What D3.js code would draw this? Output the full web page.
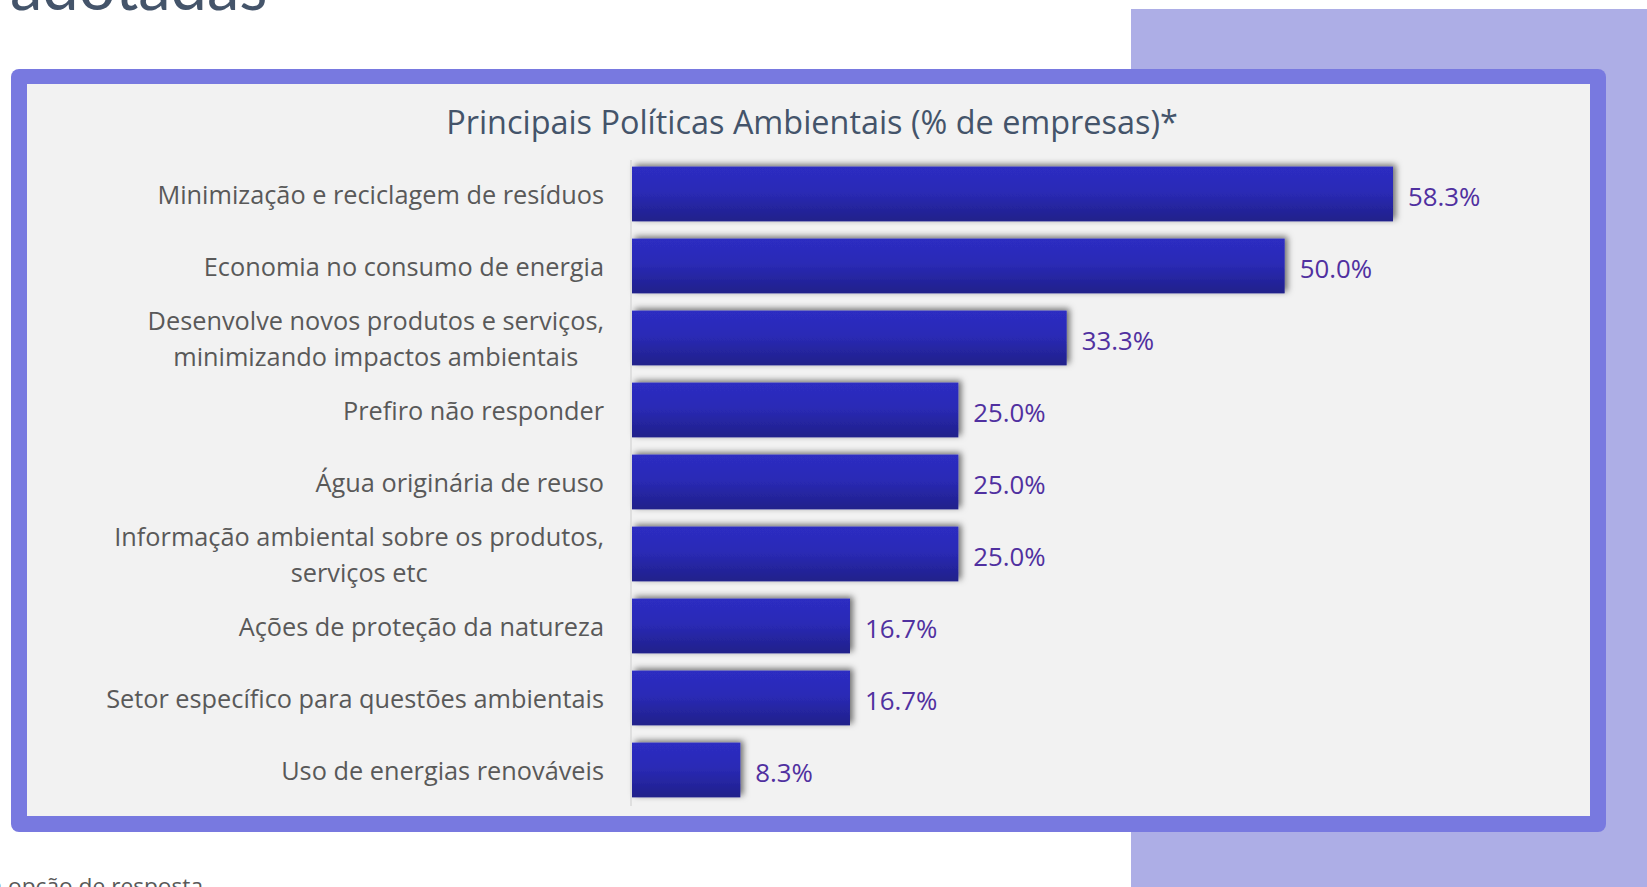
<!DOCTYPE html>
<html>
<head>
<meta charset="utf-8">
<script src="https://cdn.jsdelivr.net/npm/d3@7"></script>
<style>
  html, body { margin: 0; padding: 0; background: #ffffff; overflow: hidden; }
  svg { display: block; }
</style>
</head>
<body>
<svg id="chart" width="1647" height="887"></svg>
<script>
// Environmental policies adopted (% of companies)
const categories = [
  ["Minimização e reciclagem de resíduos"],
  ["Economia no consumo de energia"],
  ["Desenvolve novos produtos e serviços,", "minimizando impactos ambientais"],
  ["Prefiro não responder"],
  ["Água originária de reuso"],
  ["Informação ambiental sobre os produtos,", "serviços etc"],
  ["Ações de proteção da natureza"],
  ["Setor específico para questões ambientais"],
  ["Uso de energias renováveis"]
];
const values = [58.3, 50.0, 33.3, 25.0, 25.0, 25.0, 16.7, 16.7, 8.3];
const valueLabels = ["58.3%", "50.0%", "33.3%", "25.0%", "25.0%", "25.0%", "16.7%", "16.7%", "8.3%"];
const chartTitle = "Principais Políticas Ambientais (% de empresas)*";
const pageHeading = "Políticas ambientais adotadas";
const footnote = "*Mais de uma opção de resposta";

const FONT = "'Open Sans', 'Noto Sans', sans-serif";
const svg = d3.select("#chart");

// page decoration
svg.append("rect").attr("x", 1131).attr("y", 9).attr("width", 520).attr("height", 880).attr("fill", "#adaee6");

svg.append("text")
  .attr("x", 10).attr("y", 10)
  .attr("font-family", "Lato, 'Open Sans', sans-serif")
  .attr("font-size", 65)
  .attr("fill", "#44546a")
  .text(pageHeading.split(" ").pop());

svg.append("text")
  .attr("x", 203).attr("y", 894)
  .attr("text-anchor", "end")
  .attr("font-family", FONT)
  .attr("font-size", 22.7)
  .attr("fill", "#595959")
  .text(footnote);

// chart frame
svg.append("rect")
  .attr("x", 11).attr("y", 69).attr("width", 1595).attr("height", 763)
  .attr("rx", 8).attr("fill", "#7879e0");
svg.append("rect")
  .attr("x", 27).attr("y", 84).attr("width", 1563).attr("height", 732)
  .attr("fill", "#f2f2f2");

const defs = svg.append("defs");
const grad = defs.append("linearGradient").attr("id", "barGrad")
  .attr("x1", 0).attr("y1", 0).attr("x2", 0).attr("y2", 1);
grad.append("stop").attr("offset", "0%").attr("stop-color", "#2d2dc2");
grad.append("stop").attr("offset", "45%").attr("stop-color", "#2a2ab6");
grad.append("stop").attr("offset", "100%").attr("stop-color", "#20208a");

const shadow = defs.append("filter").attr("id", "barShadow")
  .attr("x", "-10%").attr("y", "-40%").attr("width", "130%").attr("height", "180%");
shadow.append("feDropShadow")
  .attr("dx", 3).attr("dy", -2).attr("stdDeviation", 3)
  .attr("flood-color", "#000").attr("flood-opacity", 0.55);

// title
svg.append("text")
  .attr("x", 812).attr("y", 134)
  .attr("text-anchor", "middle")
  .attr("font-family", FONT)
  .attr("font-size", 32.4)
  .attr("fill", "#44546a")
  .text(chartTitle);

// scales
const x = d3.scaleLinear().domain([0, 58.3]).range([632, 1393]);
const y = d3.scaleBand().domain(d3.range(categories.length))
  .range([158, 806]).paddingInner(0.24).paddingOuter(0.12);

// bars
svg.append("g").selectAll("rect")
  .data(values)
  .join("rect")
  .attr("x", x(0))
  .attr("y", (d, i) => y(i))
  .attr("width", d => x(d) - x(0))
  .attr("height", y.bandwidth())
  .attr("fill", "url(#barGrad)")
  .attr("filter", "url(#barShadow)");

// category axis line
svg.append("line")
  .attr("x1", 631).attr("x2", 631)
  .attr("y1", 160).attr("y2", 806)
  .attr("stroke", "#d9d9d9").attr("stroke-width", 1.5);

// category labels (multi-line labels centred on each other, right-aligned block)
const labelRight = 604;
const lineGap = 36;
const labelG = svg.append("g")
  .attr("font-family", FONT)
  .attr("font-size", 25.3)
  .attr("fill", "#595959");

categories.forEach((lines, i) => {
  const cy = y(i) + y.bandwidth() / 2;
  const t = labelG.append("text").attr("text-anchor", "middle");
  const spans = lines.map((ln, k) => t.append("tspan").text(ln));
  const widths = spans.map(s => s.node().getComputedTextLength());
  const maxW = d3.max(widths);
  const cx = labelRight - maxW / 2;
  const y0 = cy - (lines.length - 1) * lineGap / 2;
  spans.forEach((s, k) => s.attr("x", cx).attr("y", y0 + k * lineGap).attr("dy", "0.4em"));
});

// value labels
svg.append("g")
  .attr("font-family", FONT)
  .attr("font-size", 25.8)
  .attr("fill", "#5030a0")
  .selectAll("text")
  .data(values)
  .join("text")
  .attr("x", d => x(d) + 15)
  .attr("y", (d, i) => y(i) + y.bandwidth() / 2)
  .attr("dy", "0.48em")
  .text((d, i) => valueLabels[i]);
</script>
</body>
</html>
